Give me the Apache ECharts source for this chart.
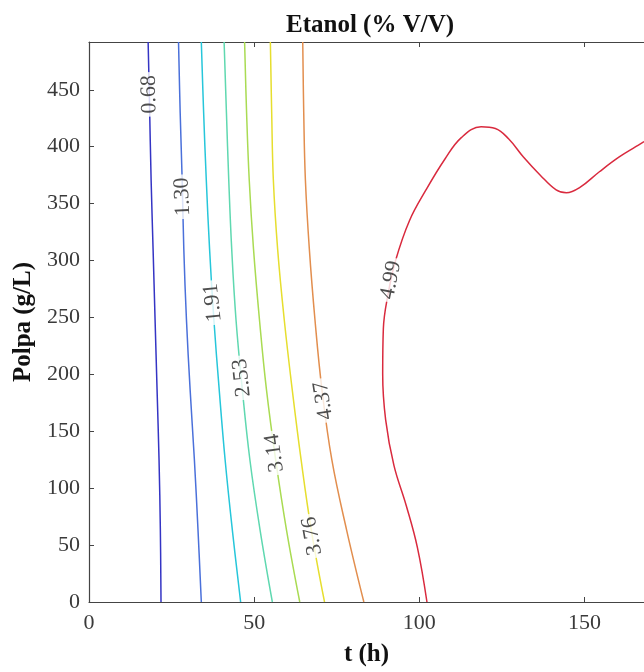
<!DOCTYPE html>
<html>
<head>
<meta charset="utf-8">
<script src="https://cdn.jsdelivr.net/npm/echarts@6/dist/echarts.min.js"></script>
<style>
  html, body { margin: 0; padding: 0; background: #fff; }
  #main { width: 644px; height: 672px; }
</style>
</head>
<body>
<div id="main"></div>
<script>
// contour levels of ethanol (% V/V), t (h) vs pulp (g/L)
const levels = ['0.68', '1.30', '1.91', '2.53', '3.14', '3.76', '4.37', '4.99'];

const xTicks = [0, 50, 100, 150];
const yTicks = [0, 50, 100, 150, 200, 250, 300, 350, 400, 450];

// each contour as [t, polpa] points
const line068 = [[17.9, 492], [18.3, 440], [18.8, 371], [19.4, 310], [20.0, 248], [20.6, 187], [21.2, 125], [21.6, 63], [21.8, 0]];
const line130 = [[27.1, 492], [27.6, 430], [28.2, 371], [28.7, 310], [29.5, 248], [30.6, 187], [31.9, 125], [33.0, 63], [34.0, 0]];
const line191 = [[34.0, 492], [34.7, 430], [35.5, 371], [36.5, 310], [37.8, 248], [39.4, 187], [41.2, 125], [43.4, 63], [45.9, 0]];
const line253 = [[40.9, 492], [41.6, 430], [42.3, 371], [43.2, 310], [44.5, 248], [46.4, 187], [48.7, 125], [51.8, 63], [55.5, 0]];
const line314 = [[47.1, 492], [47.7, 430], [48.5, 371], [49.8, 310], [51.6, 248], [53.7, 187], [56.5, 125], [59.8, 63], [63.8, 0]];
const line376 = [[54.9, 492], [55.3, 430], [55.8, 371], [57.1, 310], [59.1, 248], [61.5, 187], [64.2, 125], [67.3, 63], [71.3, 0]];
const line437 = [[64.7, 492], [65.0, 430], [65.5, 371], [66.7, 310], [68.4, 248], [70.5, 187], [73.5, 125], [78.0, 63], [83.2, 0]];
const line499 = [[102.3, 0], [99.4, 48], [96.0, 85], [92.3, 120], [89.8, 160], [88.9, 200], [89.1, 240], [90.5, 270], [92.8, 300], [97.0, 335], [102.0, 362], [107.7, 389], [112.7, 408], [118.7, 417.5], [123.0, 416], [127.0, 407], [131.5, 391], [136.6, 375], [141.4, 362], [144.5, 359.5], [148.5, 364], [154.5, 378], [160.5, 391], [165.5, 400], [168, 404.5]];

// where each level's label sits on its line
const labelPos = [[18.25, 446], [28.35, 356], [37.5, 263], [46.3, 197], [56.2, 131], [67.6, 58], [71.0, 177], [91.4, 283]];

const contours = [line068, line130, line191, line253, line314, line376, line437, line499];
const colors = ['#3434c4', '#4a70da', '#26c6da', '#5fd8b0', '#a9db52', '#e6de2e', '#e28e4e', '#d92a3e'];
const labelAngles = [91, 92.5, 96, 96, 98, 100, 99, 79];

const serif = "'Liberation Serif', 'Times New Roman', serif";

const series = contours.map((pts, i) => ({
  name: levels[i],
  type: 'line',
  data: pts,
  smooth: 0.4,
  showSymbol: false,
  symbol: 'none',
  lineStyle: { color: colors[i], width: 1.5 },
  z: 2
}));

series.push({
  type: 'scatter',
  symbol: 'circle',
  symbolSize: 1,
  itemStyle: { color: 'rgba(0,0,0,0)' },
  z: 5,
  data: labelPos.map((p, i) => ({
    value: p,
    name: levels[i],
    label: { rotate: labelAngles[i] }
  })),
  label: {
    show: true,
    position: 'inside',
    formatter: (p) => p.name,
    fontFamily: serif,
    fontSize: 22,
    color: '#222',
    backgroundColor: '#fff',
    padding: [0, 3]
  }
});

const chart = echarts.init(document.getElementById('main'));

const axisLine = { show: true, lineStyle: { color: '#444', width: 1.2 } };

const option = {
  animation: false,
  title: {
    text: 'Etanol (% V/V)',
    left: 370,
    top: 13,
    padding: 0,
    textAlign: 'center',
    textStyle: { fontFamily: serif, fontWeight: 'bold', fontSize: 25, color: '#111' }
  },
  grid: { left: 89, right: -8, top: 42, bottom: 70 },
  xAxis: [{
    type: 'value',
    min: 0,
    max: 168,
    interval: 50,
    name: 't (h)',
    nameLocation: 'middle',
    nameGap: 40,
    nameTextStyle: { fontFamily: serif, fontWeight: 'bold', fontSize: 25, color: '#111' },
    axisLine: axisLine,
    axisTick: { show: true, inside: true, length: 5, lineStyle: { color: '#444' } },
    axisLabel: {
      fontFamily: serif, fontSize: 22, color: '#3a3a3a', margin: 10,
      showMaxLabel: false,
      formatter: (v) => xTicks.includes(v) ? String(v) : ''
    },
    splitLine: { show: false }
  }, {
    type: 'value',
    position: 'top',
    min: 0,
    max: 168,
    interval: 50,
    axisLine: axisLine,
    axisTick: { show: true, inside: true, length: 5, lineStyle: { color: '#444' } },
    axisLabel: { show: false },
    splitLine: { show: false }
  }],
  yAxis: {
    type: 'value',
    min: 0,
    max: 492,
    interval: 50,
    name: 'Polpa (g/L)',
    nameLocation: 'middle',
    nameGap: 50,
    nameTextStyle: { fontFamily: serif, fontWeight: 'bold', fontSize: 25, color: '#111' },
    axisLine: axisLine,
    axisTick: { show: true, inside: true, length: 5, lineStyle: { color: '#444' } },
    axisLabel: {
      fontFamily: serif, fontSize: 22, color: '#3a3a3a', margin: 9,
      showMaxLabel: false,
      formatter: (v) => yTicks.includes(v) ? String(v) : ''
    },
    splitLine: { show: false }
  },
  series: series
};

chart.setOption(option);
window.addEventListener('resize', () => chart.resize());
</script>
</body>
</html>
